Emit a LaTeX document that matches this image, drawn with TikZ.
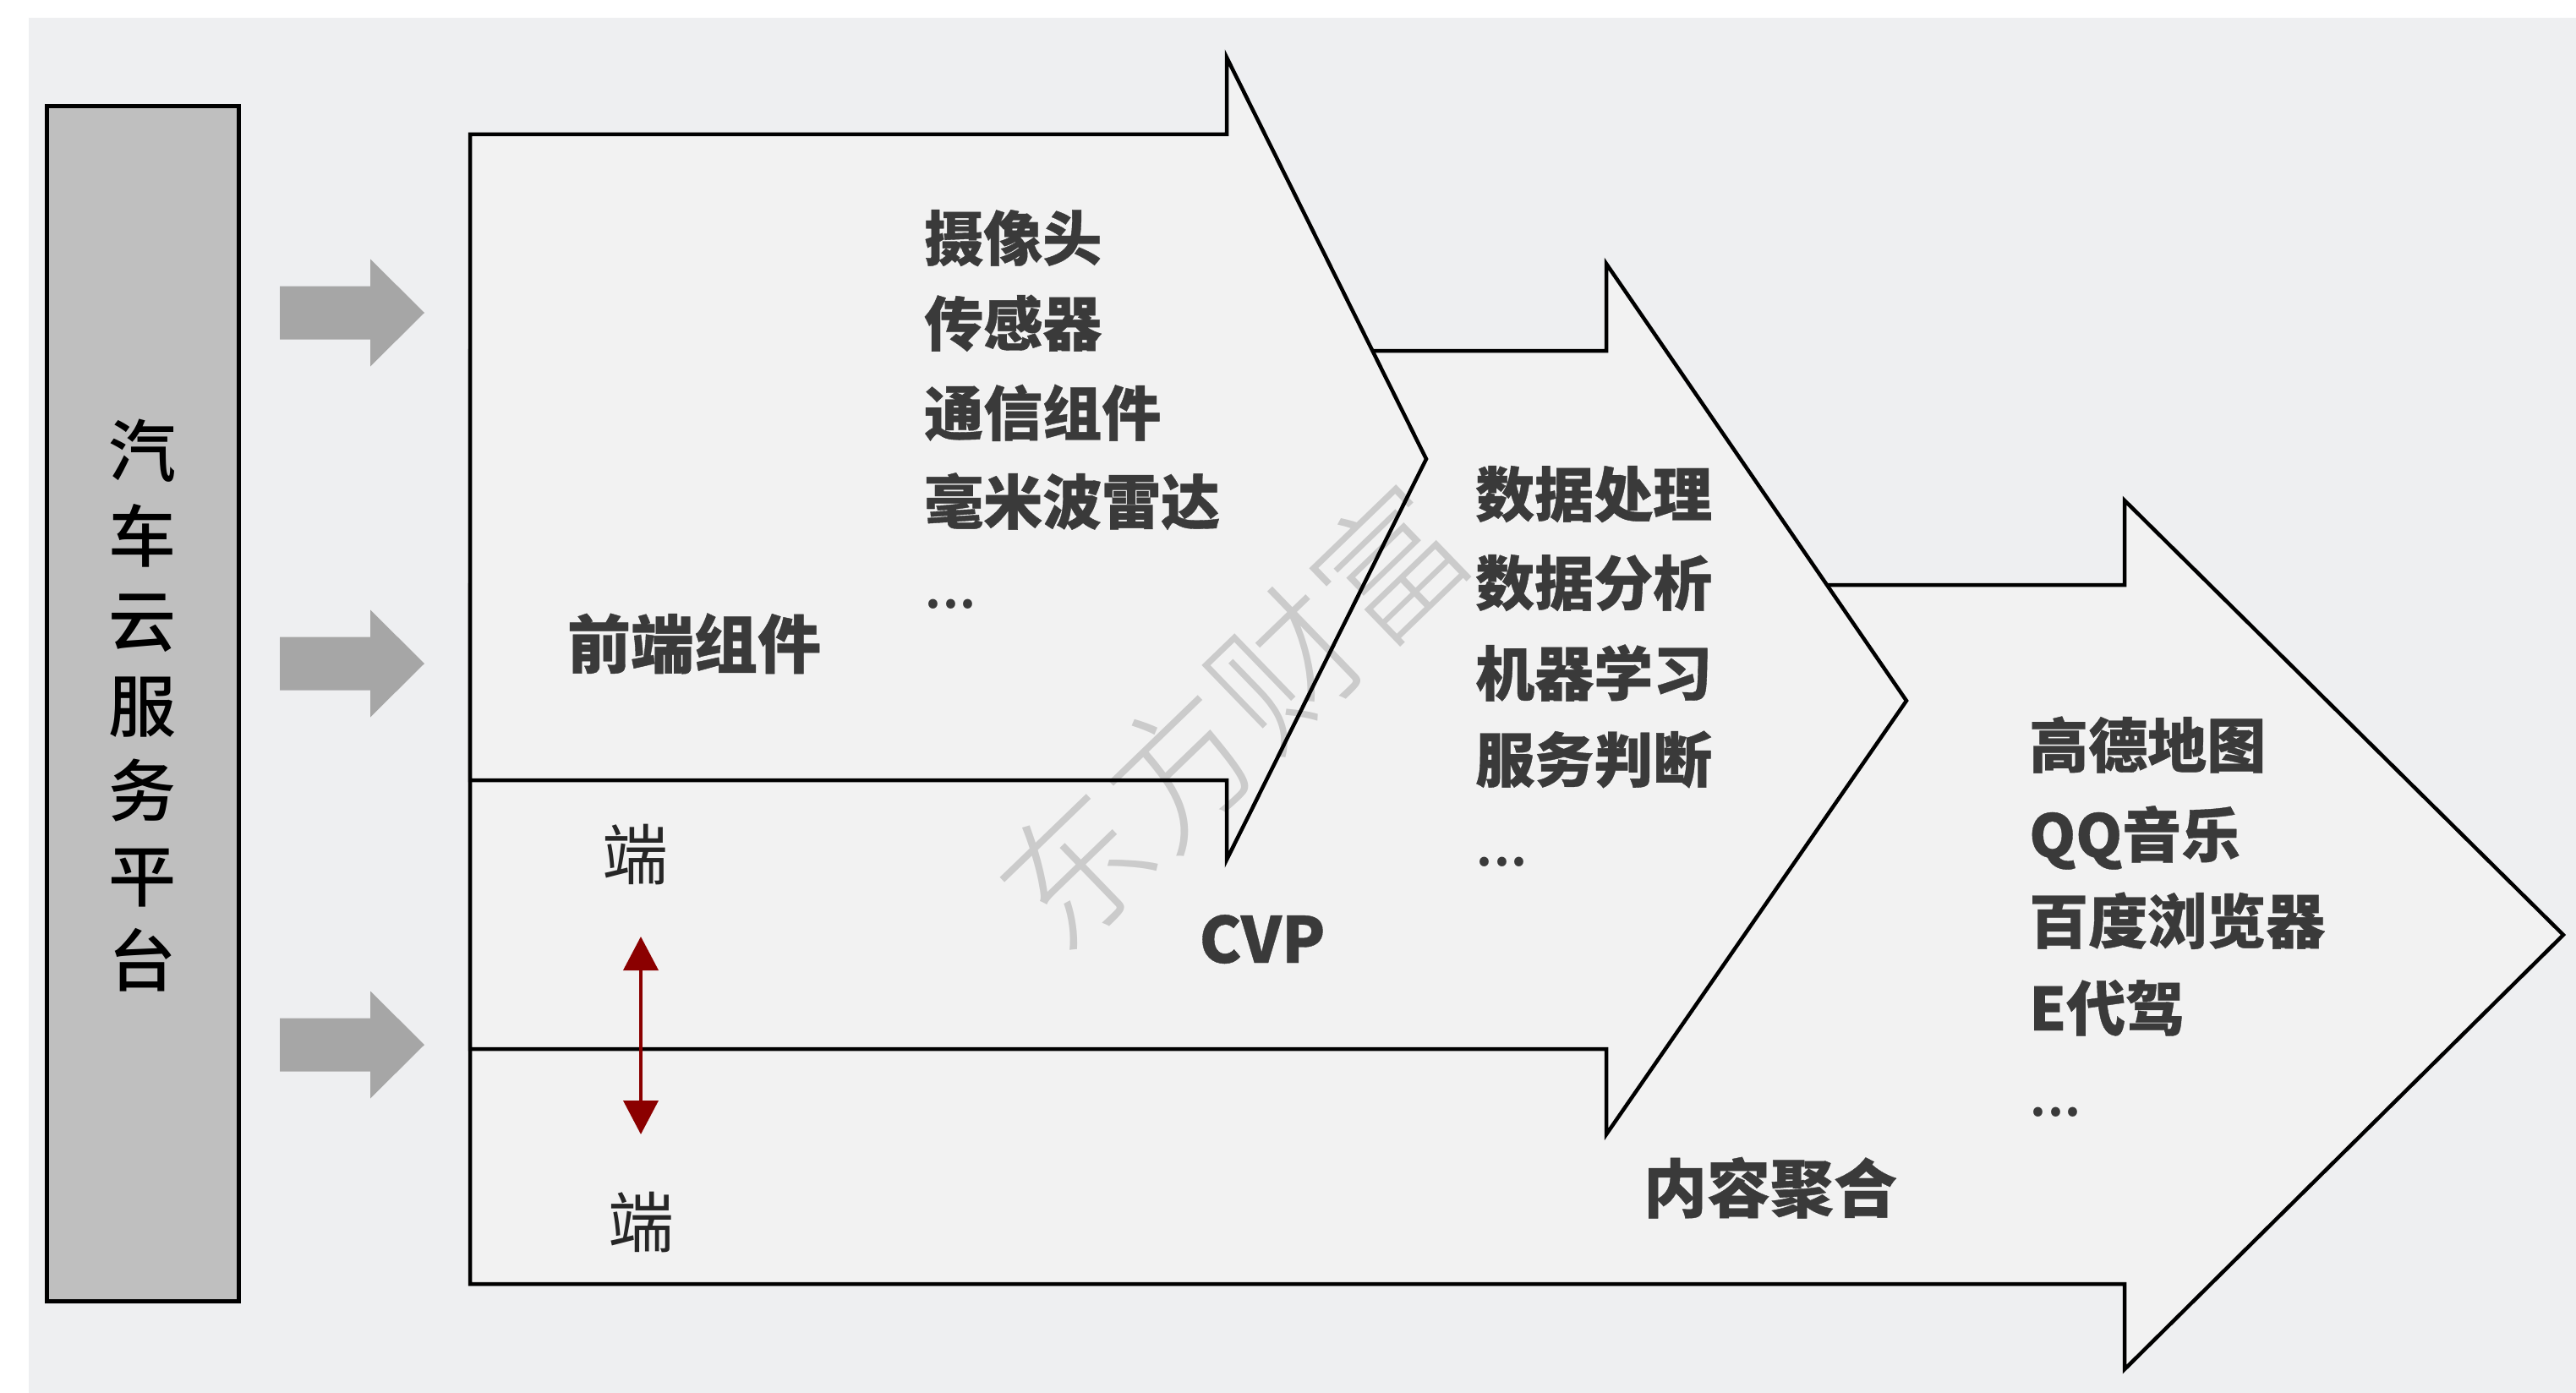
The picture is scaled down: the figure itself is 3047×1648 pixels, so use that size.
\documentclass[tikz,border=0pt]{standalone}
\usepackage{fontspec}
\setmainfont{Noto Sans CJK SC}
\newfontfamily\med{Noto Sans CJK SC Medium}[FakeBold=0.55]
\newfontfamily\plat{Noto Sans CJK SC Medium}
\newfontfamily\light{Noto Sans CJK SC Light}
\usetikzlibrary{arrows.meta}
\definecolor{bgc}{HTML}{EEEFF1}
\definecolor{arrowfill}{HTML}{F2F2F2}
\definecolor{boxfill}{HTML}{BFBFBF}
\definecolor{garrow}{HTML}{A6A6A6}
\definecolor{txt}{HTML}{3A3A3A}
\definecolor{dred}{HTML}{8B0000}
\begin{document}
\begin{tikzpicture}[x=1pt,y=-1pt,
  bigarrow/.style={draw=black, line width=4.5pt, fill=arrowfill, line join=miter},
  grayarrow/.style={fill=garrow, draw=none},
  item/.style={anchor=west, inner sep=0pt, text height=62pt, text depth=8pt,
    font=\med\bfseries\fontsize{70}{84}\selectfont, text=txt},
  dots/.style={item, font=\plat\fontsize{70}{84}\selectfont},
  label/.style={inner sep=0pt, text height=66pt, text depth=8pt,
    font=\med\bfseries\fontsize{75}{90}\selectfont, text=txt},
  endlabel/.style={inner sep=0pt, font=\fontsize{78}{90}\selectfont, text=black!85},
]
\useasboundingbox (0,0) rectangle (3047,1648);
\fill[white] (0,0) rectangle (3047,1648);
\fill[bgc] (34,21) rectangle (3047,1648);

% platform box
\node[draw=black, line width=5pt, fill=boxfill, minimum width=227pt, minimum height=1413pt,
  inner sep=0pt] (plat) at (168.5,832.5) {};
\node[align=center, inner sep=0pt, font=\plat\fontsize{80}{100.5}\selectfont, text=black]
  (plattext) at (168,835) {汽\\车\\云\\服\\务\\平\\台};

% gray arrows
\foreach \cy/\n in {370/g1, 785/g2, 1236/g3}{
  \fill[grayarrow] (331,\cy-31.5) -- (438,\cy-31.5) -- (438,\cy-63.5) -- (502,\cy)
    -- (438,\cy+63.5) -- (438,\cy+31.5) -- (331,\cy+31.5) -- cycle;
}

% big arrows (back to front)
\draw[bigarrow] (556,692) -- (2513,692) -- (2513,592) -- (3032,1106) -- (2513,1620)
  -- (2513,1519) -- (556,1519) -- cycle;
\draw[bigarrow] (556,415) -- (1900,415) -- (1900,312) -- (2255,829) -- (1900,1342)
  -- (1900,1241) -- (556,1241) -- cycle;
\draw[bigarrow] (556,159) -- (1451,159) -- (1451,68) -- (1687,543) -- (1451,1017)
  -- (1451,923) -- (556,923) -- cycle;

% list 1
\node[item] (a1) at (1093,281) {摄像头};
\node[item] (a2) at (1093,382) {传感器};
\node[item] (a3) at (1093,488) {通信组件};
\node[item] (a4) at (1093,593) {毫米波雷达};
\node[dots] (a5) at (1093,692) {...};

% list 2
\node[item] (b1) at (1745,584) {数据处理};
\node[item] (b2) at (1745,689) {数据分析};
\node[item] (b3) at (1745,796) {机器学习};
\node[item] (b4) at (1745,898) {服务判断};
\node[dots] (b5) at (1745,997) {...};

% list 3
\node[item] (c1) at (2400,881) {高德地图};
\node[item] (c2) at (2400,987) {QQ音乐};
\node[item] (c3) at (2400,1089) {百度浏览器};
\node[item] (c4) at (2400,1192) {E代驾};
\node[dots] (c5) at (2400,1293) {...};

% labels
\node[label] (front) at (821,761) {前端组件};
\node[label] (cvp) at (1493,1110) {CVP};
\node[label] (content) at (2094,1405) {内容聚合};

\node[endlabel] (end1) at (751,1011) {端};
\node[endlabel] (end2) at (758,1446) {端};
\coordinate (rt) at (758,1108);
\coordinate (rb) at (758,1342);
\draw[dred, line width=4pt, {Triangle[width=41pt,length=40pt]}-{Triangle[width=41pt,length=40pt]}] (rt) -- (rb);

% watermark
\node[rotate=44, inner sep=0pt, font=\light\fontsize{172}{172}\selectfont, text=black, text opacity=0.16]
  (wm) at (1458,848) {东方财富};
\end{tikzpicture}
\end{document}
